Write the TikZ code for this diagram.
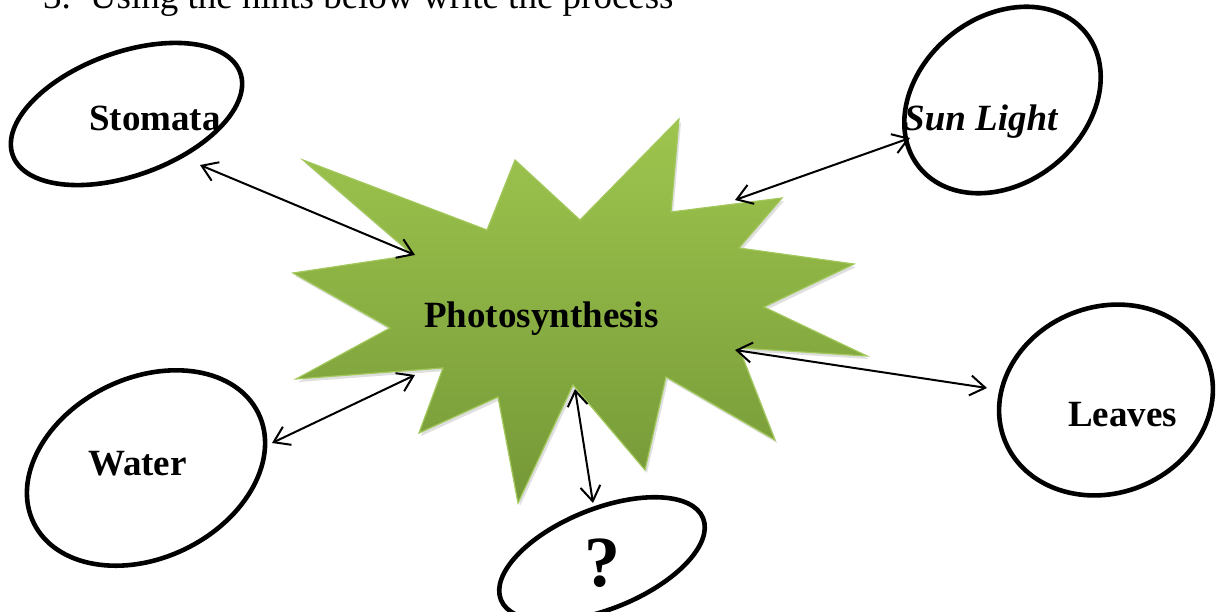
\documentclass[tikz,border=0pt]{standalone}
\usepackage{fontspec}
\setmainfont{Liberation Serif}
\usetikzlibrary{arrows.meta,shapes.geometric,shadows}
\definecolor{startop}{RGB}{158,197,78}
\definecolor{starbot}{RGB}{117,152,55}
\definecolor{starline}{RGB}{162,200,92}
\begin{document}
\begin{tikzpicture}[x=1pt,y=-1pt,
  ell/.style={draw=black, ellipse, line width=4.6pt, inner sep=0pt, outer sep=0pt},
  lbl/.style={font=\bfseries\fontsize{37}{44}\selectfont, inner sep=0pt, anchor=base west},
  dbl/.style={line width=2pt, {Straight Barb[length=15pt,width=20pt]}-{Straight Barb[length=15pt,width=20pt]}},
  startext/.style={top color=startop, bottom color=starbot, draw=starline, line width=1.2pt, line join=miter}
]
\clip (0,0) rectangle (1216,611);
\fill[white] (0,0) rectangle (1216,611);

% heading (cut at the top edge)
\node[inner sep=0pt, anchor=base west, font=\fontsize{37}{44}\selectfont] (head) at (43,8)
  {3.\hspace{19pt}Using the hints below write the process};

% star burst
\path[startext, drop shadow={opacity=0.25, shadow xshift=2pt, shadow yshift=-3pt}]
  (303,160) -- (487,230) -- (515,160) -- (580,220) -- (679,119) -- (671,212)
  -- (782,198) -- (739,248) -- (854,264) -- (764,307) -- (867,356) -- (739,348)
  -- (775,440) -- (666,377) -- (645,470) -- (573,385) -- (518,503) -- (498,397)
  -- (419,433) -- (443,368) -- (296,379) -- (390,328) -- (293,273) -- (413,255) -- cycle;
\node[lbl] (photo) at (424,327) {Photosynthesis};

% ellipses
\node[ell, minimum width=242pt, minimum height=123pt, rotate=20] (stomata) at (126.5,114) {};
\node[ell, minimum width=214pt, minimum height=166pt, rotate=39] (sun) at (1002.5,100) {};
\node[ell, minimum width=250pt, minimum height=180pt, rotate=26] (water) at (146,468) {};
\node[ell, minimum width=218pt, minimum height=186pt, rotate=22] (leaves) at (1106,400) {};
\node[ell, minimum width=218pt, minimum height=100pt, rotate=22] (quest) at (602,559) {};

% labels
\node[lbl] (tstomata) at (89,130) {Stomata};
\node[lbl, font=\bfseries\itshape\fontsize{37}{44}\selectfont] (tsun) at (904,130) {Sun Light};
\node[lbl] (twater) at (88,475) {Water};
\node[lbl] (tleaves) at (1068,426) {Leaves};
\node[lbl, font=\bfseries\fontsize{72}{80}\selectfont] (tquest) at (584,586) {?};

% connector ends
\coordinate (a1s) at (200,165); \coordinate (a1e) at (415,255);
\coordinate (a2s) at (910,138); \coordinate (a2e) at (735,200);
\coordinate (a3s) at (272,443); \coordinate (a3e) at (415,375);
\coordinate (a4s) at (987,388); \coordinate (a4e) at (735,350);
\coordinate (a5s) at (593,503); \coordinate (a5e) at (575,389);

\draw[dbl] (a1s) -- (a1e);
\draw[dbl] (a2s) -- (a2e);
\draw[dbl] (a3s) -- (a3e);
\draw[dbl] (a4s) -- (a4e);
\draw[dbl] (a5s) -- (a5e);
\end{tikzpicture}
\end{document}
